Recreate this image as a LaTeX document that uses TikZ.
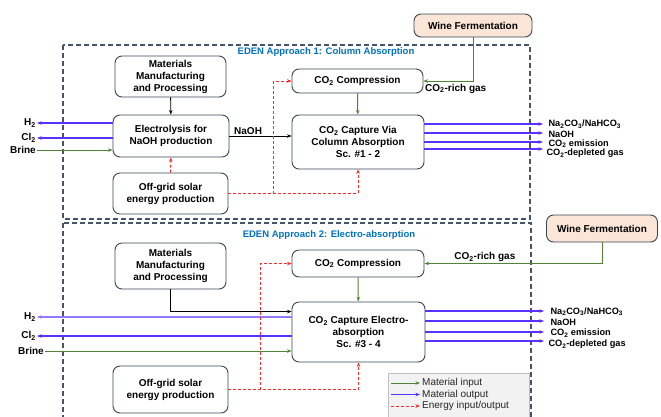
\documentclass[tikz,border=0pt]{standalone}
\usepackage{fontspec}
\setmainfont{Liberation Sans}
\usetikzlibrary{arrows.meta}

\definecolor{boxline}{RGB}{55,70,85}
\definecolor{frameline}{RGB}{68,84,106}
\definecolor{matgreen}{RGB}{84,130,53}
\definecolor{matpurple}{RGB}{90,50,255}
\definecolor{lightpurple}{RGB}{150,120,250}
\definecolor{energyred}{RGB}{255,40,40}
\definecolor{winefill}{RGB}{251,229,214}
\definecolor{titleblue}{RGB}{0,112,192}
\definecolor{legfill}{RGB}{242,242,242}
\definecolor{legline}{RGB}{191,191,191}

\tikzset{
    proc/.style={draw=boxline, line width=0.9pt, rounded corners=7pt, align=center,
        font=\fontsize{10}{12}\selectfont\bfseries, inner sep=0pt},
    source/.style={proc, fill=winefill},
    lab/.style={font=\fontsize{10}{10}\selectfont\bfseries, inner sep=1pt},
    outlab/.style={font=\fontsize{9.2}{9.2}\selectfont\bfseries, inner sep=0.3pt, anchor=west},
    title/.style={font=\fontsize{9.5}{10}\selectfont\bfseries, text=titleblue, inner sep=0pt},
    legbox/.style={draw=legline, fill=legfill, line width=0.6pt, inner sep=0pt},
    legtext/.style={font=\fontsize{10}{10}\selectfont, text=black!85, inner sep=2pt},
    tip/.style={-{Stealth[length=4.5pt,width=3.5pt]}},
    flow/.style={draw=black, line width=0.9pt, tip},
    matin/.style={draw=matgreen, line width=1pt, tip},
    matout/.style={draw=matpurple, line width=1.1pt, tip},
    matoutlight/.style={draw=lightpurple, line width=1.3pt, -{Stealth[length=4.5pt,width=3.5pt,fill=matpurple]}},
    energy/.style={draw=energyred, line width=1pt, dash pattern=on 3pt off 2pt, tip},
    frame/.style={draw=frameline, line width=1.1pt, dash pattern=on 5pt off 3pt}
}

\begin{document}
\begin{tikzpicture}[x=1pt, y=-1pt]
                \useasboundingbox (0,0) rectangle (661,416);

                \draw[frame] (63,45) rectangle (530,219);
                \draw[frame] (63,223) rectangle (531,430);
                \node[title] (tA) at (326,52) {EDEN Approach 1: Column Absorption};
                \node[title] (tB) at (329,235) {EDEN Approach 2: Electro-absorption};

                \node[proc, minimum width=111pt, minimum height=41pt] (matA) at (170.5,76.5) {Materials\\Manufacturing\\and Processing};
                \node[proc, minimum width=116pt, minimum height=42pt] (elecA) at (171,136) {Electrolysis for\\NaOH production};
                \node[proc, minimum width=115pt, minimum height=41pt] (solarA) at (170.5,193.5) {Off-grid solar\\energy production};
                \node[proc, minimum width=131pt, minimum height=24pt] (compA) at (357.5,81) {CO\textsubscript{2} Compression};
                \node[proc, minimum width=132pt, minimum height=54pt] (captA) at (358,142) {CO\textsubscript{2} Capture Via\\Column Absorption\\Sc. \#1 - 2};
                \node[source, minimum width=118pt, minimum height=23pt] (wineA) at (473,25.5) {Wine Fermentation};

                \node[lab, anchor=east] (h2A) at (37,123) {H\textsubscript{2}};
                \node[lab, anchor=east] (cl2A) at (37,138) {Cl\textsubscript{2}};
                \node[lab, anchor=east] (brineA) at (37,150) {Brine};
                \node[lab, anchor=north west] (richA) at (424,83) {CO\textsubscript{2}-rich gas};
                \coordinate (jA) at (273,193.5);
                \coordinate (oA1) at (543,124);
                \coordinate (oA2) at (543,133);
                \coordinate (oA3) at (543,142);
                \coordinate (oA4) at (543,149);
                \node[outlab] (naA) at (548,124) {Na\textsubscript{2}CO\textsubscript{3}/NaHCO\textsubscript{3}};
                \node[outlab] (nohA) at (548,134) {NaOH};
                \node[outlab] (emA) at (548,143.5) {CO\textsubscript{2} emission};
                \node[outlab] (depA) at (546,153.5) {CO\textsubscript{2}-depleted gas};

                \draw[flow] (matA) -- (elecA);
                \draw[matout] (h2A -| elecA.west) -- (h2A.east);
                \draw[matout] (cl2A -| elecA.west) -- (cl2A.east);
                \draw[matin] (brineA.east) -- (brineA -| elecA.west);
                \draw[flow] (elecA.east) -- (elecA.east -| captA.west) node[lab, pos=0.3, above] (naohA) {NaOH};
                \draw[energy] (solarA) -- (elecA);
                \draw[energy] (solarA.east) -| (captA.south);
                \draw[energy] (jA) |- (compA.west);
                \draw[matin] (compA) -- (captA);
                \draw[matin] (wineA.south) |- (compA.east);
                \draw[matout] (captA.east |- oA1) -- (oA1);
                \draw[matout] (captA.east |- oA2) -- (oA2);
                \draw[matout] (captA.east |- oA3) -- (oA3);
                \draw[matout] (captA.east |- oA4) -- (oA4);

                \node[proc, minimum width=111pt, minimum height=46pt] (matB) at (170.5,266) {Materials\\Manufacturing\\and Processing};
                \node[proc, minimum width=115pt, minimum height=47pt] (solarB) at (170.5,389.5) {Off-grid solar\\energy production};
                \node[proc, minimum width=132pt, minimum height=27pt] (compB) at (358,263.5) {CO\textsubscript{2} Compression};
                \node[proc, minimum width=133pt, minimum height=60pt] (captB) at (358.5,332) {CO\textsubscript{2} Capture Electro-\\absorption\\Sc. \#3 - 4};
                \node[source, minimum width=111pt, minimum height=27pt] (wineB) at (602,228.5) {Wine Fermentation};

                \node[lab, anchor=east] (h2B) at (37,317) {H\textsubscript{2}};
                \node[lab, anchor=east] (cl2B) at (37,336) {Cl\textsubscript{2}};
                \node[lab, anchor=east] (brineB) at (45,351) {Brine};
                \coordinate (jB) at (260,389.5);
                \coordinate (oB1) at (544,311);
                \coordinate (oB2) at (544,321);
                \coordinate (oB3) at (544,332);
                \coordinate (oB4) at (544,341);
                \node[outlab] (naB) at (550,311.5) {Na\textsubscript{2}CO\textsubscript{3}/NaHCO\textsubscript{3}};
                \node[outlab] (nohB) at (550,322) {NaOH};
                \node[outlab] (emB) at (550,333) {CO\textsubscript{2} emission};
                \node[outlab] (depB) at (548,344.5) {CO\textsubscript{2}-depleted gas};

                \draw[flow] (matB.south) |- ([yshift=-10pt]captB.north west);
                \draw[matoutlight] (h2B -| captB.west) -- (h2B.east);
                \draw[matout] (cl2B -| captB.west) -- (cl2B.east);
                \draw[matin] (brineB.east) -- (brineB -| captB.west);
                \draw[energy] (solarB.east) -| (captB.south);
                \draw[energy] (jB) |- (compB.west);
                \draw[matin] (compB) -- (captB);
                \draw[matin] (wineB.south) |- (compB.east) node[lab, pos=0.83, above] (richB) {CO\textsubscript{2}-rich gas};
                \draw[matout] (captB.east |- oB1) -- (oB1);
                \draw[matout] (captB.east |- oB2) -- (oB2);
                \draw[matout] (captB.east |- oB3) -- (oB3);
                \draw[matout] (captB.east |- oB4) -- (oB4);

                \node[legbox, minimum width=141pt, minimum height=44pt] (leg) at (458.5,395) {};
                \coordinate (lg1) at (391,383);
                \coordinate (lg2) at (391,394.5);
                \coordinate (lg3) at (391,406);
                \node[legtext, anchor=west] (lt1) at (420,383) {Material input};
                \node[legtext, anchor=west] (lt2) at (420,394.5) {Material output};
                \node[legtext, anchor=west] (lt3) at (420,406) {Energy input/output};
                \draw[matin] (lg1) -- (lt1.west);
                \draw[matout] (lg2) -- (lt2.west);
                \draw[energy] (lg3) -- (lt3.west);
            \end{tikzpicture}
\end{document}
